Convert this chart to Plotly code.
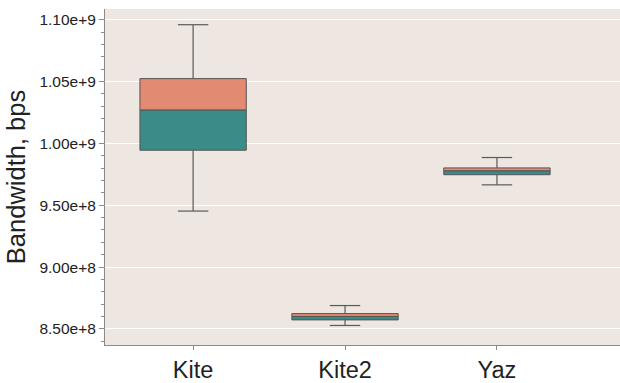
import plotly.graph_objects as go

# Bandwidth summary statistics per implementation (bps)
categories = ["Kite", "Kite2", "Yaz"]
whisker_low = [9.453e8, 8.528e8, 9.665e8]
q1 = [9.945e8, 8.573e8, 9.747e8]
median = [1.0271e9, 8.601e8, 9.779e8]
q3 = [1.0524e9, 8.624e8, 9.802e8]
whisker_high = [1.0960e9, 8.689e8, 9.886e8]
y_tick_values = [8.5e8, 9.0e8, 9.5e8, 1.0e9, 1.05e9, 1.10e9]

LOWER_COLOR = "#3b8b88"
UPPER_COLOR = "#e38a73"
EDGE_COLOR = "#555555"
BOX_WIDTH = 0.7
CAP_HALF = 0.1

positions = list(range(len(categories)))

fig = go.Figure()

# lower half of each box: Q1 -> median
fig.add_trace(go.Bar(
    x=positions,
    base=q1,
    y=[m - a for m, a in zip(median, q1)],
    width=BOX_WIDTH,
    marker=dict(color=LOWER_COLOR, line=dict(color=EDGE_COLOR, width=1)),
    showlegend=False,
    hoverinfo="skip",
))

# upper half of each box: median -> Q3
fig.add_trace(go.Bar(
    x=positions,
    base=median,
    y=[b - m for b, m in zip(q3, median)],
    width=BOX_WIDTH,
    marker=dict(color=UPPER_COLOR, line=dict(color=EDGE_COLOR, width=1)),
    showlegend=False,
    hoverinfo="skip",
))

# whiskers and caps
wx, wy = [], []
for p, lo, a, b, hi in zip(positions, whisker_low, q1, q3, whisker_high):
    wx += [p, p, None, p, p, None]
    wy += [a, lo, None, b, hi, None]
    wx += [p - CAP_HALF, p + CAP_HALF, None, p - CAP_HALF, p + CAP_HALF, None]
    wy += [lo, lo, None, hi, hi, None]

fig.add_trace(go.Scatter(
    x=wx, y=wy, mode="lines",
    line=dict(color="#5a5a5a", width=1.2),
    showlegend=False, hoverinfo="skip",
))

fig.update_layout(
    width=620, height=383,
    margin=dict(l=105, r=0, t=9, b=30),
    paper_bgcolor="white",
    plot_bgcolor="#ede6e1",
    barmode="overlay",
    font=dict(family="Liberation Sans, Arial, sans-serif", color="#222222"),
    xaxis=dict(
        range=[-0.58, 2.81],
        tickmode="array",
        tickvals=positions,
        ticktext=categories,
        tickfont=dict(size=23.5),
        showgrid=False,
        zeroline=False,
        showline=True, linecolor="#8a8a8a", linewidth=1,
        ticks="outside", ticklen=4, tickcolor="#8a8a8a",
    ),
    yaxis=dict(
        range=[8.37e8, 1.1087e9],
        tickmode="array",
        tickvals=y_tick_values,
        tickformat=".2e",
        tickfont=dict(size=15.5),
        title=dict(text="Bandwidth, bps", font=dict(size=25.5), standoff=6),
        showgrid=True, gridcolor="white", gridwidth=1,
        zeroline=False,
        showline=True, linecolor="#8a8a8a", linewidth=1,
        ticks="outside", ticklen=5, tickcolor="#8a8a8a",
        minor=dict(dtick=1e7, tick0=8.5e8, ticks="outside", ticklen=3,
                   tickcolor="#8a8a8a", showgrid=False),
    ),
)

fig.write_html("out.html")
